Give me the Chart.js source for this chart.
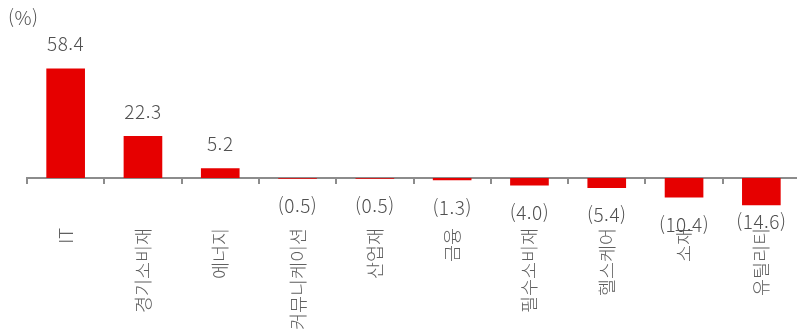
<!DOCTYPE html>
<html lang="ko">
<head>
<meta charset="utf-8">
<script src="https://cdn.jsdelivr.net/npm/chart.js@4/dist/chart.umd.min.js"></script>
<style>
  html, body { margin: 0; padding: 0; background: #fff; overflow: hidden; }
  #wrap { position: relative; width: 800px; height: 335px; }
</style>
</head>
<body>
<div id="wrap"><canvas id="c"></canvas></div>
<script>
// 업종별 수익률 (%)
const sectors = ['IT', '경기소비재', '에너지', '커뮤니케이션', '산업재', '금융', '필수소비재', '헬스케어', '소재', '유틸리티'];
const returns = [58.4, 22.3, 5.2, -0.5, -0.5, -1.3, -4.0, -5.4, -10.4, -14.6];
const unitLabel = '(%)';

const FONT = '"Noto Sans CJK KR", "Noto Sans", sans-serif';

function fmt(v) {
  return v < 0 ? '(' + Math.abs(v).toFixed(1) + ')' : v.toFixed(1);
}

// value labels above/below each bar, plus the unit caption
const valueLabels = {
  id: 'valueLabels',
  afterDatasetsDraw(chart, args, opts) {
    const ctx = chart.ctx;
    const meta = chart.getDatasetMeta(0);
    ctx.save();
    ctx.font = opts.weight + ' ' + opts.size + 'px ' + FONT;
    if ('letterSpacing' in ctx) ctx.letterSpacing = opts.spacing;
    ctx.fillStyle = opts.color;
    ctx.textAlign = 'center';
    ctx.textBaseline = 'middle';
    meta.data.forEach((bar, i) => {
      const v = chart.data.datasets[0].data[i];
      const gap = v >= 0 ? -opts.above : opts.below[i];
      ctx.fillText(fmt(v), bar.x, bar.y + gap);
    });
    ctx.textAlign = 'left';
    ctx.fillText(unitLabel, opts.unitX, opts.unitY);
    ctx.restore();
  }
};

new Chart(document.getElementById('c'), {
  type: 'bar',
  data: {
    labels: sectors,
    datasets: [{
      data: returns,
      backgroundColor: '#e60000',
      borderWidth: 0,
      barPercentage: 0.5,
      categoryPercentage: 1.0
    }]
  },
  options: {
    responsive: true,
    maintainAspectRatio: false,
    animation: false,
    layout: { padding: { top: 56, bottom: 7, left: 27, right: 0 } },
    plugins: {
      legend: { display: false },
      tooltip: { enabled: false },
      valueLabels: {
        size: 19,
        weight: 300,
        spacing: '0.5px',
        color: '#505050',
        above: 24.5,
        below: [27, 27, 27, 27, 27, 27, 27, 27, 27.5, 16.5],
        unitX: 8,
        unitY: 18
      }
    },
    scales: {
      y: {
        display: false,
        min: -80,
        max: 65
      },
      x: {
        position: { y: 0 },
        afterFit(scale) {
          scale.height = 0;
          scale.paddingLeft = 0;
          scale.paddingRight = 0;
        },
        grid: {
          offset: true,
          drawOnChartArea: false,
          drawTicks: true,
          tickLength: 5,
          color: '#8c8c8c',
          lineWidth: 2
        },
        border: { display: true, color: '#8c8c8c', width: 2 },
        ticks: {
          autoSkip: false,
          minRotation: 90,
          maxRotation: 90,
          padding: 45,
          color: '#606060',
          font: { family: FONT, size: 18.5, weight: 300 }
        }
      }
    }
  },
  plugins: [valueLabels]
});
</script>
</body>
</html>
